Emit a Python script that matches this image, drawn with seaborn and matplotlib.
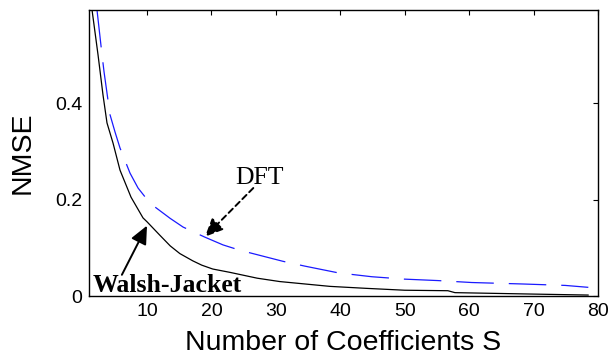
import numpy as np
import pandas as pd
import seaborn as sns
import matplotlib.pyplot as plt

# values
s_walsh = [1.47, 2.4, 3.17, 3.79, 4.73, 5.81, 7.52, 9.38, 10.0, 12.0, 13.6, 15.1, 17.1,
           18.5, 20.2, 22.9, 27.1, 30.6, 34.5, 38.4, 43.9, 50.0, 56.7, 57.8, 70.0, 78.5]
nmse_walsh = [0.593, 0.50, 0.417, 0.359, 0.317, 0.261, 0.205, 0.162, 0.154, 0.126, 0.104, 0.088, 0.073,
              0.064, 0.056, 0.049, 0.037, 0.030, 0.025, 0.020, 0.016, 0.012, 0.011, 0.007, 0.004, 0.002]

s_dft = [2.24, 3.02, 3.33, 4.26, 5.04, 5.81, 7.36, 8.61, 9.85, 11.2, 13.6, 15.6, 19.0,
         21.8, 24.4, 31.1, 34.5, 39.7, 44.9, 50.0, 55.2, 60.4, 68.2, 74.9, 78.5]
nmse_dft = [0.593, 0.50, 0.465, 0.376, 0.340, 0.307, 0.255, 0.224, 0.203, 0.185, 0.161, 0.143, 0.122,
            0.106, 0.095, 0.072, 0.062, 0.048, 0.040, 0.035, 0.032, 0.028, 0.025, 0.022, 0.018]

x_ticks = [10, 20, 30, 40, 50, 60, 70, 80]
y_ticks = [0, 0.2, 0.4]
y_tick_labels = ["0", "0.2", "0.4"]

sns.set_style("white")
plt.rcParams['font.family'] = ['Liberation Sans', 'DejaVu Sans']
plt.rcParams.update({"text.color": "black", "axes.labelcolor": "black",
                     "xtick.color": "black", "ytick.color": "black"})

fig = plt.figure(figsize=(6.11, 3.61), dpi=100)
ax = fig.add_axes([0.1457, 0.180, 0.833, 0.792])

walsh = pd.DataFrame({"S": s_walsh, "NMSE": nmse_walsh})
dft = pd.DataFrame({"S": s_dft, "NMSE": nmse_dft})

sns.lineplot(data=walsh, x="S", y="NMSE", ax=ax, color="black", lw=0.9)
sns.lineplot(data=dft, x="S", y="NMSE", ax=ax, color="#1a1aff", lw=0.9,
             dashes=False, linestyle=(0, (30, 12)))

ax.set_xlim(1, 80)
ax.set_ylim(0, 0.593)
ax.set_xticks(x_ticks)
ax.set_yticks(y_ticks)
ax.set_yticklabels(y_tick_labels)
ax.tick_params(direction="in", length=3.5, width=0.8, top=True, right=True,
               labelsize=14, pad=5, colors="black")
for sp in ax.spines.values():
    sp.set_color("black")
    sp.set_linewidth(1.0)

ax.set_xlabel("Number of Coefficients S", fontsize=20.5, labelpad=7)
ax.set_ylabel("NMSE", fontsize=20.5, labelpad=14)

# annotations
ax.text(1.5, 0.008, "Walsh-Jacket", family="Liberation Serif", fontweight="bold",
        fontsize=18.5, va="baseline", ha="left")
ax.annotate("", xy=(10.0, 0.146), xytext=(6.1, 0.044),
            arrowprops=dict(arrowstyle="-|>,head_length=1.1,head_width=0.5",
                            mutation_scale=10, color="black", lw=1.4,
                            shrinkA=0, shrinkB=0))
ax.text(23.7, 0.232, "DFT", family="Liberation Serif", fontsize=18.5,
        va="baseline", ha="left")
ax.annotate("", xy=(19.0, 0.123), xytext=(26.5, 0.224),
            arrowprops=dict(arrowstyle="-|>,head_length=1.1,head_width=0.5",
                            mutation_scale=10, color="black", lw=1.4, ls=(0, (3, 2)),
                            shrinkA=0, shrinkB=0))

fig.savefig("out.png", dpi=100)
